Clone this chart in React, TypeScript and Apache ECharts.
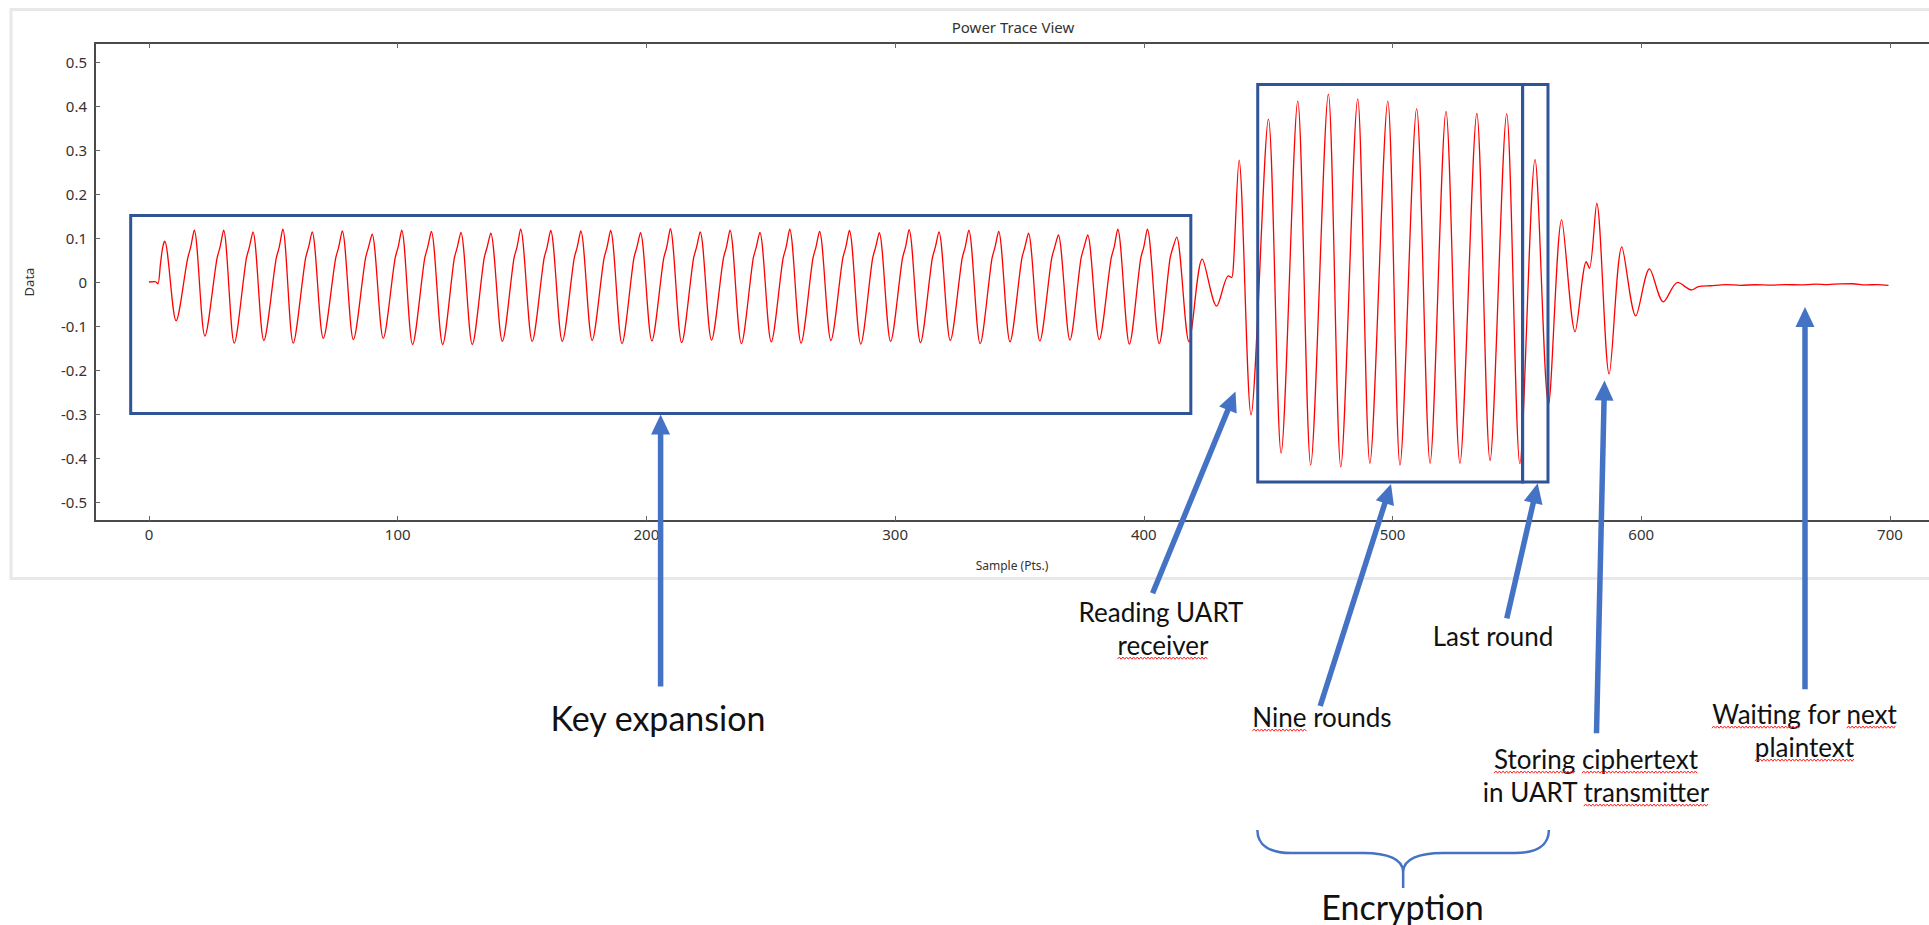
import React, { useEffect, useRef } from 'react';
import * as echarts from 'echarts';

// ---------- axis ticks ----------
const xTicks = [0, 100, 200, 300, 400, 500, 600, 700];
const yTicks = [-0.5, -0.4, -0.3, -0.2, -0.1, 0, 0.1, 0.2, 0.3, 0.4, 0.5];
const X_MIN = -21.7;
const X_MAX = 715.7;
const Y_MIN = -0.5432;
const Y_MAX = 0.5432;

// ---------- trace (peaks, troughs and rising-edge shoulders) ----------
const keyExpansion: number[][] = [
  [0, 0], [2.5, 0.001], [3.6, -0.004], [4.6, 0.04], [5.4, 0.075], [6.3, 0.093], [10.9, -0.088],
  [15.5, 0.052], [16.8, 0.08], [18.2, 0.118], [22.5, -0.123],
  [27.3, 0.052], [28.6, 0.08], [30.0, 0.118], [34.3, -0.139],
  [39.1, 0.052], [40.4, 0.08], [41.8, 0.114], [46.2, -0.133],
  [51.1, 0.052], [52.4, 0.08], [53.8, 0.12], [58.0, -0.139],
  [62.9, 0.052], [64.2, 0.08], [65.6, 0.114], [70.1, -0.128],
  [75.0, 0.052], [76.3, 0.08], [77.7, 0.116], [82.2, -0.131],
  [87.0, 0.052], [88.3, 0.08], [89.7, 0.109], [94.2, -0.128],
  [98.9, 0.052], [100.2, 0.08], [101.6, 0.118], [106.0, -0.142],
  [110.8, 0.052], [112.1, 0.08], [113.5, 0.115], [118.1, -0.142],
  [122.7, 0.052], [124.0, 0.08], [125.4, 0.113], [130.0, -0.142],
  [134.7, 0.052], [136.0, 0.08], [137.4, 0.111], [142.1, -0.135],
  [146.7, 0.052], [148.0, 0.08], [149.4, 0.12], [154.1, -0.135],
  [158.8, 0.052], [160.1, 0.08], [161.5, 0.117], [166.2, -0.135],
  [170.9, 0.052], [172.2, 0.08], [173.6, 0.116], [178.2, -0.133],
  [182.9, 0.052], [184.2, 0.08], [185.6, 0.117], [190.2, -0.14],
  [194.9, 0.052], [196.2, 0.08], [197.6, 0.112], [202.2, -0.134],
  [206.9, 0.052], [208.2, 0.08], [209.6, 0.121], [214.2, -0.138],
  [218.9, 0.052], [220.2, 0.08], [221.6, 0.114], [226.2, -0.132],
  [230.9, 0.052], [232.2, 0.08], [233.6, 0.118], [238.2, -0.14],
  [242.9, 0.052], [244.2, 0.08], [245.6, 0.113], [250.2, -0.136],
  [254.9, 0.052], [256.2, 0.08], [257.6, 0.12], [262.2, -0.139],
  [266.9, 0.052], [268.2, 0.08], [269.6, 0.115], [274.2, -0.133],
  [278.9, 0.052], [280.2, 0.08], [281.6, 0.117], [286.2, -0.141],
  [290.9, 0.052], [292.2, 0.08], [293.6, 0.112], [298.2, -0.135],
  [302.9, 0.052], [304.2, 0.08], [305.6, 0.119], [310.2, -0.138],
  [314.9, 0.052], [316.2, 0.08], [317.6, 0.114], [322.2, -0.133],
  [326.9, 0.052], [328.2, 0.08], [329.6, 0.118], [334.2, -0.14],
  [338.9, 0.052], [340.2, 0.08], [341.6, 0.115], [346.2, -0.136],
  [350.9, 0.052], [352.2, 0.08], [353.6, 0.111], [358.2, -0.134],
  [362.9, 0.052], [364.2, 0.08], [365.6, 0.107], [370.3, -0.132],
  [374.7, 0.052], [376.0, 0.08], [377.4, 0.107], [382.1, -0.131],
  [386.8, 0.052], [388.1, 0.08], [389.5, 0.12], [394.2, -0.141],
  [398.7, 0.052], [400.0, 0.08], [401.4, 0.12], [406.2, -0.14],
  [410.5, 0.052], [411.8, 0.08], [413.2, 0.102], [418.2, -0.136],
];
const uartRead: number[][] = [
  [423.5, 0.052], [429.3, -0.055], [434.0, 0.014], [435.3, 0.01], [436.0, 0.035],
  [438.3, 0.277], [443.1, -0.302],
];
const nineRounds: number[][] = [
  [450.1, 0.37], [455.2, -0.389], [461.9, 0.411], [467.1, -0.416], [474.2, 0.427],
  [479.2, -0.42], [486.0, 0.416], [490.9, -0.412], [498.1, 0.411], [503.0, -0.416],
  [509.7, 0.394], [515.1, -0.412], [521.5, 0.388], [527.1, -0.412], [533.9, 0.383],
  [539.2, -0.406], [545.9, 0.382], [551.2, -0.413],
];
const lastRound: number[][] = [[557.3, 0.278], [562.7, -0.278]];
const storing: number[][] = [
  [568.0, 0.141], [573.4, -0.113], [577.9, 0.046], [579.2, 0.031], [582.1, 0.179],
  [587.1, -0.209], [592.2, 0.08], [597.8, -0.077], [603.3, 0.03], [608.9, -0.045],
  [614.7, -0.001], [620.3, -0.018], [623.0, -0.0105],
];
const idle: number[][] = [
  [628, -0.0085], [634, -0.006], [640, -0.0075], [646, -0.0062], [652, -0.0072],
  [658, -0.006], [664, -0.0066], [670, -0.005], [675, -0.0058], [680, -0.0042],
  [685, -0.004], [690, -0.0066], [695, -0.0058], [699.4, -0.0075],
];
const trace = [...keyExpansion, ...uartRead, ...nineRounds, ...lastRound, ...storing, ...idle];

// ---------- annotation boxes (data coordinates) ----------
const boxes = [
  { x0: -7.35, x1: 418.9, y0: -0.299, y1: 0.151 },
  { x0: 445.8, x1: 552.3, y0: -0.4545, y1: 0.449 },
  { x0: 552.3, x1: 562.5, y0: -0.4545, y1: 0.449 },
];

// ---------- arrows (page pixels: tail -> tip) ----------
const arrows = [
  { from: [660.6, 686.5], to: [660.6, 414.6] },
  { from: [1152.6, 593.3], to: [1235.5, 391.5] },
  { from: [1320.2, 706], to: [1391, 484] },
  { from: [1506.8, 618.3], to: [1537.7, 483.3] },
  { from: [1596.5, 733.3], to: [1604.5, 380.5] },
  { from: [1805, 689.3], to: [1805, 307] },
];

const ANN_FONT = 'Lato';
const SMALL = 26;
const BIG = 34;
const labels = [
  { text: 'Key expansion', x: 658, y: 717, size: BIG, wavy: [] as string[] },
  { text: 'Reading UART', x: 1161, y: 612, size: SMALL, wavy: [] as string[] },
  { text: 'receiver', x: 1163, y: 644.5, size: SMALL, wavy: ['receiver'] },
  { text: 'Nine rounds', x: 1322, y: 716.5, size: SMALL, wavy: ['Nine'] },
  { text: 'Last round', x: 1493, y: 635.5, size: SMALL, wavy: [] as string[] },
  { text: 'Storing ciphertext', x: 1596, y: 758.5, size: SMALL, wavy: ['Storing', 'ciphertext'] },
  { text: 'in UART transmitter', x: 1596, y: 791.5, size: SMALL, wavy: ['transmitter'] },
  { text: 'Waiting for next', x: 1804.5, y: 713.5, size: SMALL, wavy: ['Waiting', 'next'] },
  { text: 'plaintext', x: 1804.5, y: 746.5, size: SMALL, wavy: ['plaintext'] },
  { text: 'Encryption', x: 1402.5, y: 906, size: BIG, wavy: [] as string[] },
];

const BRACE_D =
  'M0,0 C0,15 12,23 34,23 L106,23 C130,23 145.75,29 145.75,42 L145.75,58 ' +
  'M145.75,42 C145.75,29 161.5,23 185.5,23 L257.5,23 C279.5,23 291.5,15 291.5,0';

let braceRegistered = false;

const TICK_FONT = '"Noto Sans"';

export default function App() {
  const ref = useRef<HTMLDivElement>(null);

  useEffect(() => {
    if (!ref.current) return;
    if (!braceRegistered) {
      echarts.graphic.registerShape('brace', echarts.graphic.extendPath(BRACE_D, {}) as any);
      braceRegistered = true;
    }
    const chart = echarts.init(ref.current, null, { renderer: 'svg' });
    const axisColor = '#4a4a4a';
    const option: any = {
      animation: false,
      backgroundColor: '#ffffff',
      grid: { left: 95, right: 0, top: 43, bottom: 404, containLabel: false },
      xAxis: [
        {
          type: 'value', min: X_MIN, max: X_MAX, position: 'bottom',
          axisLine: { show: true, onZero: false, lineStyle: { color: axisColor, width: 2 } },
          axisTick: { show: true, inside: true, length: 5, customValues: xTicks, lineStyle: { color: '#666', width: 1 } },
          axisLabel: { show: true, customValues: xTicks, margin: 5, fontFamily: TICK_FONT, fontSize: 15, color: '#333' },
          splitLine: { show: false },
          name: 'Sample (Pts.)', nameLocation: 'middle', nameGap: 38,
          nameTextStyle: { fontFamily: TICK_FONT, fontSize: 12, color: '#333' },
        },
        {
          type: 'value', min: X_MIN, max: X_MAX, position: 'top',
          axisLine: { show: true, onZero: false, lineStyle: { color: axisColor, width: 2 } },
          axisTick: { show: true, inside: true, length: 5, customValues: xTicks, lineStyle: { color: '#666', width: 1 } },
          axisLabel: { show: false },
          splitLine: { show: false },
        },
      ],
      yAxis: {
        type: 'value', min: Y_MIN, max: Y_MAX,
        axisLine: { show: true, onZero: false, lineStyle: { color: axisColor, width: 2 } },
        axisTick: { show: true, inside: true, length: 5, customValues: yTicks, lineStyle: { color: '#666', width: 1 } },
        axisLabel: {
          show: true, customValues: yTicks, margin: 8, fontFamily: TICK_FONT, fontSize: 15, color: '#333',
          formatter: (v: number) => (Math.abs(v) < 1e-9 ? '0' : (Math.round(v * 10) / 10).toFixed(1)),
        },
        splitLine: { show: false },
        name: 'Data', nameLocation: 'middle', nameGap: 60,
        nameTextStyle: { fontFamily: TICK_FONT, fontSize: 13, color: '#333' },
      },
      series: [
        {
          type: 'line', xAxisIndex: 0, yAxisIndex: 0, data: trace,
          showSymbol: false, symbol: 'none', smooth: 0.3,
          lineStyle: { color: '#ff0000', width: 1.3 }, z: 3,
        },
      ],
    };
    chart.setOption(option);

    const toPx = (x: number, y: number) => chart.convertToPixel({ seriesIndex: 0 }, [x, y]) as number[];

    const els: any[] = [];
    // outer widget frame
    els.push({
      type: 'rect', z: 0, silent: true,
      shape: { x: 11, y: 9.5, width: 1940, height: 569 },
      style: { fill: 'none', stroke: '#e8e8e8', lineWidth: 3 },
    });
    // title
    els.push({
      type: 'text', z: 10, silent: true,
      style: { text: 'Power Trace View', x: 1013, y: 26.5, font: `15px ${TICK_FONT}`, fill: '#333', align: 'center', verticalAlign: 'middle' },
    });
    // boxes
    boxes.forEach((b) => {
      const p0 = toPx(b.x0, b.y1);
      const p1 = toPx(b.x1, b.y0);
      els.push({
        type: 'rect', z: 50, silent: true,
        shape: { x: p0[0], y: p0[1], width: p1[0] - p0[0], height: p1[1] - p0[1] },
        style: { fill: 'none', stroke: '#2F5597', lineWidth: 3 },
      });
    });
    // arrows
    const headLen = 20;
    const headHalf = 9.5;
    arrows.forEach((a) => {
      const dx = a.to[0] - a.from[0];
      const dy = a.to[1] - a.from[1];
      const len = Math.sqrt(dx * dx + dy * dy);
      const ux = dx / len;
      const uy = dy / len;
      const bx = a.to[0] - ux * headLen;
      const by = a.to[1] - uy * headLen;
      els.push({
        type: 'line', z: 60, silent: true,
        shape: { x1: a.from[0], y1: a.from[1], x2: bx + ux * 2, y2: by + uy * 2 },
        style: { stroke: '#4472C4', lineWidth: 5.5 },
      });
      els.push({
        type: 'polygon', z: 60, silent: true,
        shape: { points: [[a.to[0], a.to[1]], [bx - uy * headHalf, by + ux * headHalf], [bx + uy * headHalf, by - ux * headHalf]] },
        style: { fill: '#4472C4' },
      });
    });
    // brace
    els.push({
      type: 'brace', z: 60, silent: true, x: 1257.4, y: 830,
      style: { fill: 'none', stroke: '#4472C4', lineWidth: 2.5 },
    });
    // labels + spell-check squiggles
    const canvas = document.createElement('canvas');
    const ctx = canvas.getContext('2d') as CanvasRenderingContext2D;
    labels.forEach((l) => {
      const font = `${l.size}px ${ANN_FONT}`;
      els.push({
        type: 'text', z: 70, silent: true,
        style: { text: l.text, x: l.x, y: l.y, font, fill: '#111', align: 'center', verticalAlign: 'middle' },
      });
      if (l.wavy.length) {
        ctx.font = font;
        const total = ctx.measureText(l.text).width;
        const left = l.x - total / 2;
        const base = l.y + 0.37 * l.size + 4;
        l.wavy.forEach((w) => {
          const idx = l.text.indexOf(w);
          const x0 = left + ctx.measureText(l.text.slice(0, idx)).width;
          const x1 = x0 + ctx.measureText(w).width;
          const pts: number[][] = [];
          let i = 0;
          for (let x = x0; x <= x1; x += 1.8) {
            pts.push([x, base + (i % 2 === 0 ? 1.1 : -1.1)]);
            i++;
          }
          els.push({
            type: 'polyline', z: 70, silent: true,
            shape: { points: pts },
            style: { stroke: '#ff2020', lineWidth: 1, fill: 'none' },
          });
        });
      }
    });
    chart.setOption({ graphic: { elements: els } });

    return () => {
      chart.dispose();
    };
  }, []);

  return (
    <div
      ref={ref}
      style={{ position: 'absolute', left: 0, top: 0, width: 1929, height: 925, background: '#fff' }}
    />
  );
}
